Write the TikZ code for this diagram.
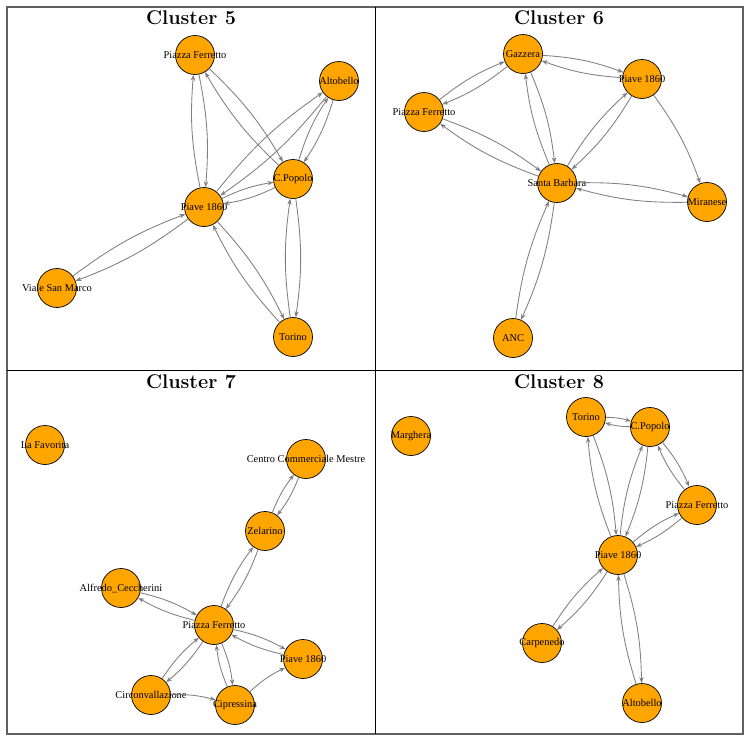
\documentclass[tikz,border=0pt]{standalone}
\usepackage{fontspec}
\newfontfamily\stopfont{Liberation Serif}
\usetikzlibrary{positioning,arrows.meta}
\definecolor{stopfill}{HTML}{FFA500}
\definecolor{linkgray}{HTML}{7F7F7F}

\begin{document}
\begin{tikzpicture}[
    x=1pt, y=-1pt,
    stop/.style={circle, draw=black, fill=stopfill, line width=0.7pt,
        minimum size=39pt, inner sep=0pt},
    every label/.style={font=\stopfont\fontsize{10.4}{12}\selectfont, inner sep=0pt},
    link/.style={-{Stealth[length=6pt, width=4.4pt]}, draw=linkgray, line width=0.85pt, bend left=8},
    panel/.style={font=\bfseries\fontsize{19.8}{22}\selectfont, anchor=base}
]
\useasboundingbox (0,0) rectangle (751,742);

% ---- Frame ----
\draw[gray!75!black, line width=1.2pt] (7,7) rectangle (743,734);
\draw[line width=0.8pt] (375,7) -- (375,734);
\draw[line width=0.8pt] (7,370) -- (743,370);

% ---- Cluster 5 ----
\node[panel] (t5) at (191,24) {Cluster 5};
\node[stop, label={center:Piazza Ferretto}] (c5ferretto) at (195,55) {};
\node[stop, label={center:Altobello}] (c5altobello) at (339,81) {};
\node[stop, label={center:C.Popolo}] (c5popolo) at (293,179) {};
\node[stop, label={center:Piave 1860}] (c5piave) at (204,207) {};
\node[stop, label={center:Viale San Marco}] (c5marco) at (57,288) {};
\node[stop, label={center:Torino}] (c5torino) at (293,337) {};

\draw[link] (c5ferretto) to (c5piave);   \draw[link] (c5piave) to (c5ferretto);
\draw[link] (c5ferretto) to (c5popolo);  \draw[link] (c5popolo) to (c5ferretto);
\draw[link] (c5altobello) to (c5piave);  \draw[link] (c5piave) to (c5altobello);
\draw[link] (c5altobello) to (c5popolo); \draw[link] (c5popolo) to (c5altobello);
\draw[link] (c5popolo) to (c5piave);     \draw[link] (c5piave) to (c5popolo);
\draw[link] (c5piave) to (c5marco);      \draw[link] (c5marco) to (c5piave);
\draw[link] (c5piave) to (c5torino);     \draw[link] (c5torino) to (c5piave);
\draw[link] (c5popolo) to (c5torino);    \draw[link] (c5torino) to (c5popolo);

% ---- Cluster 6 ----
\node[panel] (t6) at (559,24) {Cluster 6};
\node[stop, label={center:Gazzera}] (c6gazzera) at (523,54) {};
\node[stop, label={center:Piave 1860}] (c6piave) at (642,79) {};
\node[stop, label={center:Piazza Ferretto}] (c6ferretto) at (424,112) {};
\node[stop, label={center:Santa Barbara}] (c6barbara) at (557,183) {};
\node[stop, label={center:Miranese}] (c6miranese) at (707,202) {};
\node[stop, label={center:ANC}] (c6anc) at (513,338) {};

\draw[link] (c6gazzera) to (c6ferretto);  \draw[link] (c6ferretto) to (c6gazzera);
\draw[link] (c6gazzera) to (c6piave);     \draw[link] (c6piave) to (c6gazzera);
\draw[link] (c6gazzera) to (c6barbara);   \draw[link] (c6barbara) to (c6gazzera);
\draw[link] (c6ferretto) to (c6barbara);  \draw[link] (c6barbara) to (c6ferretto);
\draw[link] (c6piave) to (c6barbara);     \draw[link] (c6barbara) to (c6piave);
\draw[link] (c6piave) to (c6miranese);
\draw[link] (c6barbara) to (c6miranese);  \draw[link] (c6miranese) to (c6barbara);
\draw[link] (c6barbara) to (c6anc);       \draw[link] (c6anc) to (c6barbara);

% ---- Cluster 7 ----
\node[panel] (t7) at (191,388) {Cluster 7};
\node[stop, label={center:La Favorita}] (c7favorita) at (45,445) {};
\node[stop, label={center:Centro Commerciale Mestre}] (c7centro) at (306,459) {};
\node[stop, label={center:Zelarino}] (c7zelarino) at (265,531) {};
\node[stop, label={center:Alfredo\_Ceccherini}] (c7alfredo) at (121,588) {};
\node[stop, label={center:Piazza Ferretto}] (c7ferretto) at (214,625) {};
\node[stop, label={center:Piave 1860}] (c7piave) at (303,659) {};
\node[stop, label={center:Circonvallazione}] (c7circ) at (151,695) {};
\node[stop, label={center:Cipressina}] (c7cipressina) at (235,705) {};

\draw[link] (c7centro) to (c7zelarino);      \draw[link] (c7zelarino) to (c7centro);
\draw[link] (c7zelarino) to (c7ferretto);    \draw[link] (c7ferretto) to (c7zelarino);
\draw[link] (c7alfredo) to (c7ferretto);     \draw[link] (c7ferretto) to (c7alfredo);
\draw[link] (c7ferretto) to (c7piave);       \draw[link] (c7piave) to (c7ferretto);
\draw[link] (c7ferretto) to (c7circ);        \draw[link] (c7circ) to (c7ferretto);
\draw[link] (c7ferretto) to (c7cipressina);  \draw[link] (c7cipressina) to (c7ferretto);
\draw[link] (c7circ) to (c7cipressina);
\draw[link] (c7cipressina) to (c7piave);

% ---- Cluster 8 ----
\node[panel] (t8) at (559,388) {Cluster 8};
\node[stop, label={center:Marghera}] (c8marghera) at (411,436) {};
\node[stop, label={center:Torino}] (c8torino) at (586,417) {};
\node[stop, label={center:C.Popolo}] (c8popolo) at (650,427) {};
\node[stop, label={center:Piazza Ferretto}] (c8ferretto) at (697,505) {};
\node[stop, label={center:Piave 1860}] (c8piave) at (618,555) {};
\node[stop, label={center:Carpenedo}] (c8carpenedo) at (542,643) {};
\node[stop, label={center:Altobello}] (c8altobello) at (642,703) {};

\draw[link] (c8torino) to (c8popolo);       \draw[link] (c8popolo) to (c8torino);
\draw[link] (c8torino) to (c8piave);        \draw[link] (c8piave) to (c8torino);
\draw[link] (c8popolo) to (c8piave);        \draw[link] (c8piave) to (c8popolo);
\draw[link] (c8popolo) to (c8ferretto);     \draw[link] (c8ferretto) to (c8popolo);
\draw[link] (c8ferretto) to (c8piave);      \draw[link] (c8piave) to (c8ferretto);
\draw[link] (c8piave) to (c8carpenedo);     \draw[link] (c8carpenedo) to (c8piave);
\draw[link] (c8piave) to (c8altobello);     \draw[link] (c8altobello) to (c8piave);
\end{tikzpicture}
\end{document}
